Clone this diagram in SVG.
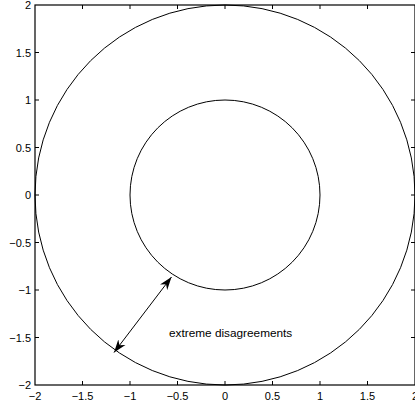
<svg xmlns="http://www.w3.org/2000/svg" width="415" height="404" viewBox="0 0 415 404">
<style>
.t{font-family:"Liberation Sans",Arial,sans-serif;font-size:11px;fill:#000}
.ax{fill:none;stroke:#000;stroke-width:1.2}
.tk{stroke:#000;stroke-width:1}
.c{fill:none;stroke:#000;stroke-width:1}
</style>
<defs>
<marker id="ah" markerUnits="userSpaceOnUse" markerWidth="14" markerHeight="10" refX="13" refY="5" orient="auto-start-reverse" viewBox="0 0 14 10">
<path d="M0,0.5 L13,5 L0,9.5 L4,5 z" fill="#000"/>
</marker>
</defs>
<rect width="415" height="404" fill="#fff"/>
<g id="axes">
<rect class="ax" x="35" y="5" width="380" height="380"/>
<g class="tk">
<path d="M82.5,385v-4M130,385v-4M177.5,385v-4M225,385v-4M272.5,385v-4M320,385v-4M367.5,385v-4"/>
<path d="M82.5,5v4M130,5v4M177.5,5v4M225,5v4M272.5,5v4M320,5v4M367.5,5v4"/>
<path d="M35,52.5h4M35,100h4M35,147.5h4M35,195h4M35,242.5h4M35,290h4M35,337.5h4"/>
<path d="M415,52.5h-4M415,100h-4M415,147.5h-4M415,195h-4M415,242.5h-4M415,290h-4M415,337.5h-4"/>
</g>
<g class="t" text-anchor="end">
<text x="31" y="9">2</text>
<text x="31" y="56.5">1.5</text>
<text x="31" y="104">1</text>
<text x="31" y="151.5">0.5</text>
<text x="31" y="199">0</text>
<text x="31" y="246.5">−0.5</text>
<text x="31" y="294">−1</text>
<text x="31" y="341.5">−1.5</text>
<text x="31" y="389">−2</text>
</g>
<g class="t" text-anchor="middle">
<text x="35" y="400">−2</text>
<text x="82.5" y="400">−1.5</text>
<text x="130" y="400">−1</text>
<text x="177.5" y="400">−0.5</text>
<text x="225" y="400">0</text>
<text x="272.5" y="400">0.5</text>
<text x="320" y="400">1</text>
<text x="367.5" y="400">1.5</text>
<text x="415" y="400">2</text>
</g>
</g>
<g id="outer-circle"><circle class="c" cx="225" cy="195" r="190"/></g>
<g id="inner-circle"><circle class="c" cx="225" cy="195" r="95"/></g>
<g id="connectors">
<line x1="114" y1="352.5" x2="171.5" y2="277" stroke="#000" stroke-width="1" marker-start="url(#ah)" marker-end="url(#ah)"/>
</g>
<g id="label"><text class="t" x="169" y="337" style="font-size:11.8px">extreme disagreements</text></g>
</svg>
